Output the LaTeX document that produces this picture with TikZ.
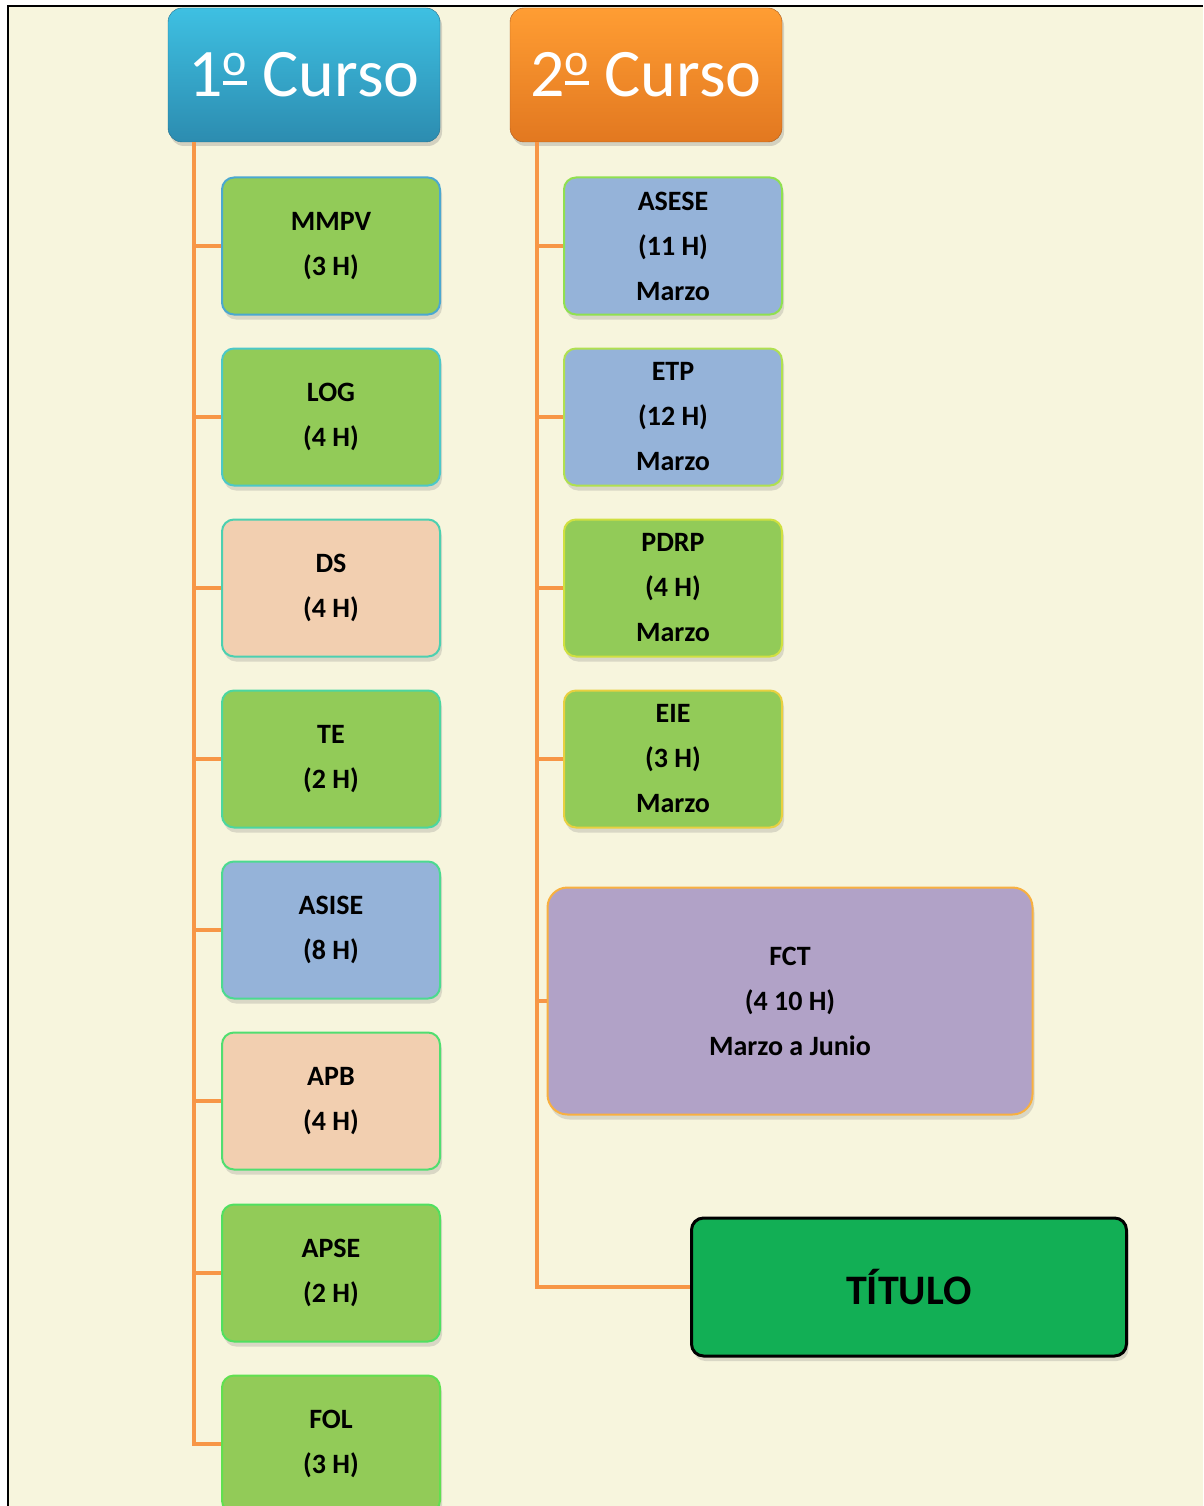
\documentclass[tikz,border=0pt]{standalone}
\usepackage{fontspec}
\setmainfont{Carlito}
\usetikzlibrary{calc}
\usetikzlibrary{positioning}
\usetikzlibrary{shadows}
\definecolor{paper}{RGB}{247,245,221}
\definecolor{branchColor}{RGB}{247,150,70}
\definecolor{greenFill}{RGB}{146,203,88}
\definecolor{blueFill}{RGB}{149,179,217}
\definecolor{peachFill}{RGB}{242,207,176}
\definecolor{lilacFill}{RGB}{177,162,199}
\definecolor{titleFill}{RGB}{18,175,85}
\newcommand{\boxFont}{\fontsize{28}{45}\selectfont\bfseries}
% ordinal with bar underneath, as in the headings
\newcommand{\ordo}{\raisebox{12pt}{\vbox{\hbox{\fontsize{46}{46}\selectfont o}\kern5pt\hrule height 3.5pt}}}
\tikzset{trunk/.style = {branchColor, line width=4pt}}
\tikzset{subject/.style = {rounded corners=12pt, line width=2pt, align=center,
    minimum width=218pt, minimum height=137pt, inner sep=0pt,
    font=\boxFont, drop shadow={opacity=0.25, shadow xshift=2pt, shadow yshift=-5pt}}}
\tikzset{course/.style = {rounded corners=14pt, minimum width=272pt, minimum height=134pt,
    inner sep=0pt, text=white, font=\fontsize{68}{68}\selectfont,
    drop shadow={opacity=0.3, shadow xshift=2pt, shadow yshift=-4pt}}}

\begin{document}
\begin{tikzpicture}[x=1pt, y=-1pt]
    \useasboundingbox (0,0) rectangle (1203,1506);
    \fill[paper] (8,6) rectangle (1203,1506);
    \draw[black, line width=2pt] (8,1506) -- (8,6) -- (1203,6);

    \node[course, top color={rgb,255:red,62;green,192;blue,226}, bottom color={rgb,255:red,44;green,140;blue,176},
          draw={rgb,255:red,36;green,110;blue,140}] (curso1) at (304,75) {1\ordo\ Curso};
    \node[course, top color={rgb,255:red,255;green,157;blue,51}, bottom color={rgb,255:red,226;green,120;blue,32},
          draw={rgb,255:red,170;green,90;blue,30}] (curso2) at (646,75) {2\ordo\ Curso};

    % primer curso
    \node[subject, fill=greenFill, draw={rgb,255:red,75;green,168;blue,208}] (mmpv) at (331,246) {MMPV\\(3 H)};
    \node[subject, fill=greenFill, draw={rgb,255:red,76;green,200;blue,200}] (log) at (331,417) {LOG\\(4 H)};
    \node[subject, fill=peachFill, draw={rgb,255:red,76;green,208;blue,176}] (ds) at (331,588) {DS\\(4 H)};
    \node[subject, fill=greenFill, draw={rgb,255:red,76;green,214;blue,160}] (te) at (331,759) {TE\\(2 H)};
    \node[subject, fill=blueFill, draw={rgb,255:red,76;green,218;blue,144}] (asise) at (331,930) {ASISE\\(8 H)};
    \node[subject, fill=peachFill, draw={rgb,255:red,80;green,222;blue,112}] (apb) at (331,1101) {APB\\(4 H)};
    \node[subject, fill=greenFill, draw={rgb,255:red,80;green,224;blue,96}] (apse) at (331,1273) {APSE\\(2 H)};
    \node[subject, fill=greenFill, draw={rgb,255:red,96;green,224;blue,80}] (fol) at (331,1444) {FOL\\(3 H)};

    % segundo curso
    \node[subject, fill=blueFill, draw={rgb,255:red,144;green,224;blue,80}] (asese) at (673,246) {ASESE\\(11 H)\\Marzo};
    \node[subject, fill=blueFill, draw={rgb,255:red,176;green,224;blue,80}] (etp) at (673,417) {ETP\\(12 H)\\Marzo};
    \node[subject, fill=greenFill, draw={rgb,255:red,208;green,224;blue,64}] (pdrp) at (673,588) {PDRP\\(4 H)\\Marzo};
    \node[subject, fill=greenFill, draw={rgb,255:red,232;green,208;blue,64}] (eie) at (673,759) {EIE\\(3 H)\\Marzo};
    \node[subject, fill=lilacFill, draw={rgb,255:red,248;green,176;blue,64},
          minimum width=485pt, minimum height=227pt, rounded corners=20pt] (fct) at (790,1001) {FCT\\(4 10 H)\\Marzo a Junio};
    \node[subject, fill=titleFill, draw=black, line width=3pt, font=\fontsize{42}{42}\selectfont\bfseries,
          minimum width=435pt, minimum height=138pt] (titulo) at (909,1287) {TÍTULO};

    \coordinate (t1) at (194,0);
    \coordinate (t2) at (537,0);
    \draw[trunk] (curso1.south -| t1) |- (fol.west);
    \foreach \n in {mmpv,log,ds,te,asise,apb,apse}
        \draw[trunk] (\n.west -| t1) -- (\n.west);
    \draw[trunk] (curso2.south -| t2) |- (titulo.west);
    \foreach \n in {asese,etp,pdrp,eie,fct}
        \draw[trunk] (\n.west -| t2) -- (\n.west);
\end{tikzpicture}
\end{document}
